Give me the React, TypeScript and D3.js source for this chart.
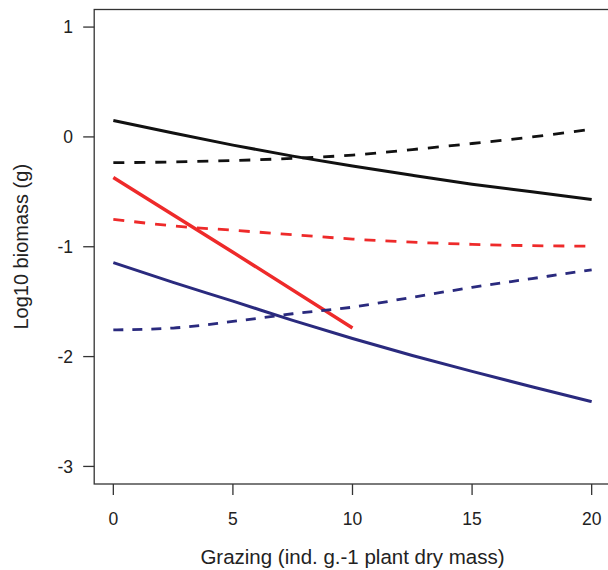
import React from 'react';
import * as d3 from 'd3';

const grazing = [0, 2.5, 5, 7.5, 10, 12.5, 15, 17.5, 20];
const redGrazing = [0, 5, 10];

const blackSolid = [0.15, 0.035, -0.075, -0.175, -0.265, -0.35, -0.43, -0.5, -0.57];
const blackDashed = [-0.235, -0.228, -0.215, -0.195, -0.165, -0.115, -0.06, 0.0, 0.07];
const redSolid = [-0.37, -1.05, -1.74];
const redDashed = [-0.75, -0.81, -0.85, -0.89, -0.93, -0.958, -0.978, -0.99, -0.995];
const navySolid = [-1.145, -1.325, -1.495, -1.67, -1.835, -1.99, -2.135, -2.275, -2.41];
const navyDashed = [-1.757, -1.74, -1.68, -1.61, -1.55, -1.46, -1.37, -1.29, -1.21];

const xTicks = [0, 5, 10, 15, 20];
const yTicks = [1, 0, -1, -2, -3];

const W = 608;
const H = 570;
const font = "Arial, 'Liberation Sans', sans-serif";

const App = () => {
  const x = d3.scaleLinear().domain([-0.8, 20.8]).range([94.2, 610.8]);
  const y = d3.scaleLinear().domain([-3.16, 1.16]).range([484, 9.5]);

  const line = d3
    .line<[number, number]>()
    .x(d => x(d[0]))
    .y(d => y(d[1]))
    .curve(d3.curveMonotoneX);

  const pts = (xs: number[], ys: number[]) => xs.map((v, i) => [v, ys[i]] as [number, number]);

  const series = [
    { d: pts(grazing, blackSolid), color: '#111', dash: null, w: 3 },
    { d: pts(grazing, blackDashed), color: '#111', dash: '11,10', w: 2.8 },
    { d: pts(redGrazing, redSolid), color: '#ee2a2a', dash: null, w: 3.4 },
    { d: pts(grazing, redDashed), color: '#ee2a2a', dash: '11,10', w: 2.8 },
    { d: pts(grazing, navySolid), color: '#2a2a7e', dash: null, w: 3 },
    { d: pts(grazing, navyDashed), color: '#2a2a7e', dash: '10,9', w: 2.8 },
  ];

  const [x0, x1] = x.range();
  const [y0, y1] = y.range();

  return (
    <svg
      width={W}
      height={H}
      style={{ position: 'absolute', left: 0, top: 0, background: '#fff' }}
      fontFamily={font}
    >
      {/* box */}
      <rect x={x0} y={y1} width={x1 - x0} height={y0 - y1} fill="none" stroke="#333" strokeWidth={1.3} />

      {/* y axis ticks */}
      {yTicks.map(t => (
        <g key={'y' + t}>
          <line x1={x0 - 11} x2={x0} y1={y(t)} y2={y(t)} stroke="#333" strokeWidth={1.3} />
          <text x={73} y={y(t)} dy="0.36em" textAnchor="end" fontSize={17.5} fill="#222">
            {t}
          </text>
        </g>
      ))}

      {/* x axis ticks */}
      {xTicks.map(t => (
        <g key={'x' + t}>
          <line x1={x(t)} x2={x(t)} y1={y0} y2={y0 + 11} stroke="#333" strokeWidth={1.3} />
          <text x={x(t)} y={525} textAnchor="middle" fontSize={17.5} fill="#222">
            {t}
          </text>
        </g>
      ))}

      {series.map((s, i) => (
        <path
          key={i}
          d={line(s.d) || ''}
          fill="none"
          stroke={s.color}
          strokeWidth={s.w}
          strokeDasharray={s.dash || undefined}
        />
      ))}

      <text x={(x0 + x1) / 2} y={564} textAnchor="middle" fontSize={20.5} fill="#222">
        Grazing (ind. g.-1 plant dry mass)
      </text>
      <text
        transform={`translate(28, ${(y0 + y1) / 2}) rotate(-90)`}
        textAnchor="middle"
        fontSize={20}
        fill="#222"
      >
        Log10 biomass (g)
      </text>
    </svg>
  );
};

export default App;
